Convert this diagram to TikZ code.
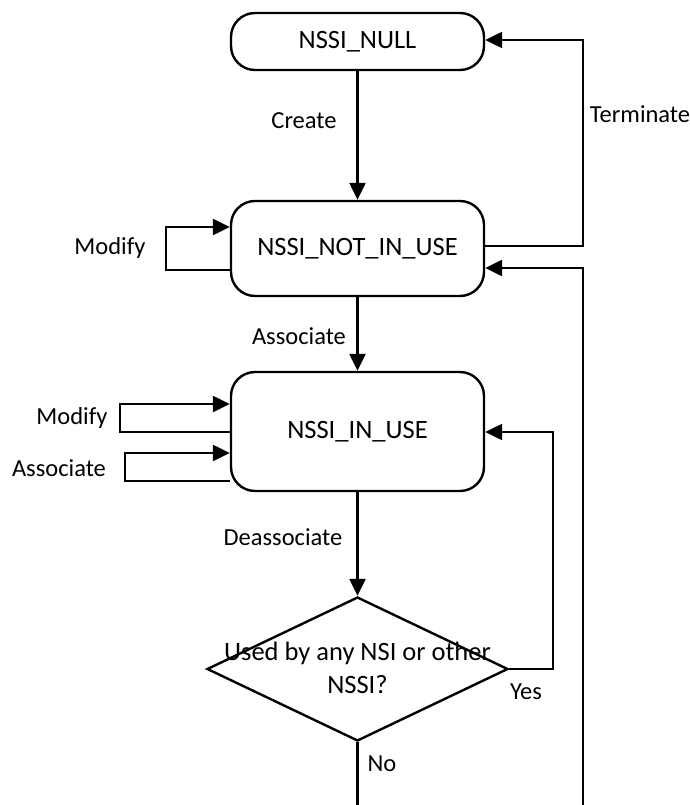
\documentclass[tikz,border=0pt]{standalone}
\usepackage{fontspec}
\setmainfont{Carlito}
\usetikzlibrary{arrows.meta,shapes.geometric}
\begin{document}
\begin{tikzpicture}[x=1pt,y=-1pt,
  line width=2.4pt,
  state/.style={draw,rounded corners=24pt,minimum width=253pt,inner sep=0pt,font=\fontsize{26.5}{30}\selectfont},
  lbl/.style={font=\fontsize{24.5}{28}\selectfont,inner sep=0pt},
  arr/.style={-{Triangle[length=17pt,width=16pt]}},
  dec/.style={draw,diamond,aspect=2.09,minimum width=301pt,minimum height=144pt,inner sep=0pt}]
\useasboundingbox (0,0) rectangle (690,805);
\node[state,minimum height=57pt] (null) at (357.5,41.5) {NSSI\_NULL};
\node[state,minimum height=95pt] (notuse) at (357.5,248.5) {NSSI\_NOT\_IN\_USE};
\node[state,minimum height=119pt] (inuse) at (357.5,431.5) {NSSI\_IN\_USE};
\node[dec] (d) at (357.5,669) {};
\node[font=\fontsize{26.5}{33}\selectfont,align=center,inner sep=0pt] (dt) at (357.5,668) {Used by any NSI or other\\NSSI?};
\coordinate (bot) at (357.5,806);
\coordinate (rb) at (583,806);
% Create
\draw[arr] (null.south) -- (notuse.north);
\node[lbl] (lc) at (304,121) {Create};
% Terminate
\draw[arr] (notuse.east |- 0,246) -- (583,246) -- (583,40) -- (null.east |- 0,40);
\node[lbl] (lt) at (640,114) {Terminate};
% return
\draw[arr] (rb) -- (583,268) -- (notuse.east |- 0,268);
% modify on not in use
\draw[arr] (notuse.west |- 0,270) -- (166,270) -- (166,227) -- (notuse.west |- 0,227);
\node[lbl] (lm1) at (110,248) {Modify};
% associate
\draw[arr] (notuse.south) -- (inuse.north);
\node[lbl] (la1) at (299,336) {Associate};
% modify/associate on in use
\draw[arr] (inuse.west |- 0,432) -- (120,432) -- (120,404) -- (inuse.west |- 0,404);
\node[lbl] (lm2) at (72,418) {Modify};
\draw[arr] (inuse.west |- 0,481) -- (125,481) -- (125,453) -- (inuse.west |- 0,453);
\node[lbl] (la2) at (59,468) {Associate};
% deassociate
\draw[arr] (inuse.south) -- (d.north);
\node[lbl] (ld) at (283,537) {Deassociate};
% yes
\draw[arr] (d.east) -- (553,669) -- (553,432) -- (inuse.east |- 0,432);
\node[lbl] (ly) at (526,692) {Yes};
% no
\draw (d.south) -- (bot);
\node[lbl] (ln) at (382,764) {No};
\end{tikzpicture}
\end{document}
